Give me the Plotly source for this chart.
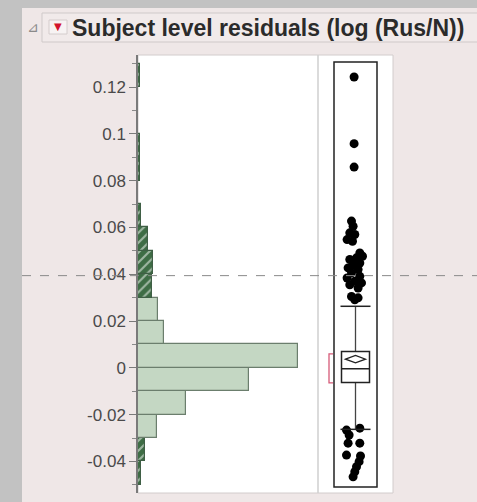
import plotly.graph_objects as go

# ---------------- data ----------------
bin_lo = [-0.05, -0.04, -0.03, -0.02, -0.01, 0.00, 0.01, 0.02, 0.03, 0.04,
          0.05, 0.06, 0.07, 0.08, 0.09, 0.10, 0.11, 0.12]
counts = [2, 4, 11, 28, 65, 94, 15, 12, 8, 9, 6, 2, 0, 1, 1, 0, 0, 1]
bin_width = 0.01

# box plot summary
q1 = -0.0063
median = -0.0004
q3 = 0.0070
whisker_lo = -0.0263
whisker_hi = 0.0263
mean = 0.0037
mean_ci = 0.0016
short_half_lo = -0.0064
short_half_hi = 0.0060

# outlier points (value, horizontal jitter)
outlier_vals = [0.1243, 0.0958, 0.0858,
                0.0627, 0.0605, 0.0577, 0.0570, 0.0548, 0.0541, 0.0491, 0.0477,
                0.0470, 0.0463, 0.0448, 0.0441, 0.0427, 0.0420, 0.0406, 0.0391,
                0.0384, 0.0370, 0.0363, 0.0355, 0.0341, 0.0305, 0.0299, 0.0291,
                -0.0258, -0.0266, -0.0287, -0.0322, -0.0322, -0.0373, -0.0377,
                -0.0401, -0.0423, -0.0444, -0.0466]
outlier_jit = [-1.4, -1.4, -1.4,
               -4.0, -2.4, -5.7, -0.7, -8.4, -3.0, 4.3, 7.0,
               1.0, -5.7, 4.3, -2.4, -7.4, 2.6, -4.0, 4.3,
               -8.4, -0.7, 6.0, -5.7, 2.6, -4.0, 2.6, -0.7,
               4.3, -9.0, -6.4, 4.3, -7.4, -9.0, 5.0,
               3.6, 1.0, -0.7, -2.4]

tick_vals = [-0.04, -0.02, 0.0, 0.02, 0.04, 0.06, 0.08, 0.10, 0.12]
tick_text = ["-0.04", "-0.02", "0", "0.02", "0.04", "0.06", "0.08", "0.1", "0.12"]
minor_vals = [-0.05, -0.03, -0.01, 0.01, 0.03, 0.05, 0.07, 0.09, 0.11, 0.13]
crosshair_val = 0.0394

title_text = "Subject level residuals (log (Rus/N))"

# ---------------- figure ----------------
W, H = 477, 502
def px_x(p):
    return p / W
def px_y(p):
    return 1 - p / H

light_fill = "#c4d7c3"
dark_fill = "#3e6d45"

centers = [b + bin_width / 2 for b in bin_lo]
dark = [(b >= whisker_hi) or (b + bin_width <= whisker_lo) for b in bin_lo]
colors = [dark_fill if d else light_fill for d in dark]
lines = ["#3f5f45" if d else "#6b7e6d" for d in dark]
patterns = ["/" if d else "" for d in dark]

fig = go.Figure()

fig.add_trace(go.Bar(
    y=centers, x=counts, orientation="h", width=bin_width,
    marker=dict(color=colors, line=dict(color=lines, width=1.2),
                pattern=dict(shape=patterns, fgcolor="#6f9a75",
                             size=7, solidity=0.3, fillmode="overlay")),
    xaxis="x", yaxis="y", hoverinfo="skip", showlegend=False))

fig.add_trace(go.Scatter(
    x=outlier_jit, y=outlier_vals, mode="markers",
    marker=dict(color="black", size=9, line=dict(width=0)),
    xaxis="x2", yaxis="y", hoverinfo="skip", showlegend=False))

shapes = []
# outer gray frame pieces
shapes.append(dict(type="rect", xref="paper", yref="paper", x0=0, x1=1, y0=0, y1=1,
                   fillcolor="#c2c2c2", line=dict(width=0), layer="below"))
shapes.append(dict(type="rect", xref="paper", yref="paper", x0=px_x(22), x1=1,
                   y0=0, y1=px_y(8), fillcolor="#efe7e7", line=dict(width=0), layer="below"))
# title bar frame
shapes.append(dict(type="rect", xref="paper", yref="paper", x0=px_x(42), x1=px_x(480),
                   y0=px_y(42), y1=px_y(13), fillcolor="#f1eaea",
                   line=dict(color="#cfc9c9", width=1), layer="below"))
# dropdown button
shapes.append(dict(type="rect", xref="paper", yref="paper", x0=px_x(49), x1=px_x(67),
                   y0=px_y(34), y1=px_y(20), fillcolor="#f7f3f3",
                   line=dict(color="#d4cccc", width=1), layer="below"))
# white plot areas
shapes.append(dict(type="rect", xref="paper", yref="paper", x0=px_x(138), x1=px_x(393),
                   y0=px_y(493), y1=px_y(55), fillcolor="white",
                   line=dict(color="#d2cccc", width=1), layer="below"))
# separator between histogram and box plot
shapes.append(dict(type="line", xref="paper", yref="paper", x0=px_x(318), x1=px_x(318),
                   y0=px_y(493), y1=px_y(55), line=dict(color="#cfcfcf", width=1.5)))

# box-plot frame
shapes.append(dict(type="rect", xref="x2", yref="paper", x0=-21.5, x1=21.5,
                   y0=px_y(487), y1=px_y(62), line=dict(color="#222", width=1.5)))
# whisker line
shapes.append(dict(type="line", xref="x2", yref="y", x0=0, x1=0, y0=whisker_lo, y1=whisker_hi,
                   line=dict(color="#444", width=1.3)))
# whisker caps
for wv in (whisker_lo, whisker_hi):
    shapes.append(dict(type="line", xref="x2", yref="y", x0=-15, x1=15, y0=wv, y1=wv,
                       line=dict(color="#222", width=1.5)))
# box
shapes.append(dict(type="rect", xref="x2", yref="y", x0=-14, x1=14, y0=q1, y1=q3,
                   fillcolor="white", line=dict(color="#222", width=1.5)))
shapes.append(dict(type="line", xref="x2", yref="y", x0=-14, x1=14, y0=median, y1=median,
                   line=dict(color="#222", width=1.5)))
# mean diamond
shapes.append(dict(type="path", xref="x2", yref="y",
                   path=f"M -10 {mean} L 0 {mean + mean_ci} L 10 {mean} L 0 {mean - mean_ci} Z",
                   line=dict(color="#222", width=1.3), fillcolor="white"))
# shortest half bracket
bx = -26.5
shapes.append(dict(type="path", xref="x2", yref="y",
                   path=(f"M {bx + 4} {short_half_hi} L {bx} {short_half_hi} "
                         f"L {bx} {short_half_lo} L {bx + 4} {short_half_lo}"),
                   line=dict(color="#d65a78", width=1.3)))
# crosshair dashed line
shapes.append(dict(type="line", xref="paper", yref="y", x0=px_x(22), x1=1,
                   y0=crosshair_val, y1=crosshair_val,
                   line=dict(color="#8a8a8a", width=1, dash="dash")))

annotations = [
    dict(text=title_text, xref="paper", yref="paper", x=px_x(70), y=px_y(28),
         xanchor="left", yanchor="middle", showarrow=False,
         font=dict(family="Liberation Sans", size=23, color="#2b2b2b", weight="bold")),
    dict(text="⊿", xref="paper", yref="paper", x=px_x(33), y=px_y(27),
         xanchor="center", yanchor="middle", showarrow=False,
         font=dict(family="DejaVu Sans", size=14, color="#8a8a8a")),
    dict(text="▼", xref="paper", yref="paper", x=px_x(58), y=px_y(27),
         xanchor="center", yanchor="middle", showarrow=False,
         font=dict(family="DejaVu Sans", size=10, color="#d3142c")),
]

hist_unit_px = 1.7
fig.update_layout(
    width=W, height=H, autosize=False,
    margin=dict(l=0, r=0, t=0, b=0, pad=0),
    paper_bgcolor="#c2c2c2", plot_bgcolor="rgba(0,0,0,0)",
    showlegend=False,
    xaxis=dict(domain=[px_x(138), px_x(318)], range=[0, 180 / hist_unit_px],
               visible=False, fixedrange=True),
    xaxis2=dict(domain=[px_x(318), px_x(393)], range=[-37.5, 37.5],
                visible=False, anchor="y", fixedrange=True),
    yaxis=dict(domain=[px_y(493), px_y(55)], range=[-0.0535, 0.1337],
               tickvals=tick_vals, ticktext=tick_text,
               ticks="outside", ticklen=7, tickcolor="#7a7a7a", tickwidth=1,
               showline=True, linecolor="#7a7a7a", linewidth=1.5,
               showgrid=False, zeroline=False,
               tickfont=dict(family="Liberation Sans", size=17, color="#4a4a4a"),
               minor=dict(tickvals=minor_vals, ticks="outside", ticklen=4,
                          tickcolor="#8a8a8a", showgrid=False),
               anchor="x", fixedrange=True),
    bargap=0,
    shapes=shapes,
    annotations=annotations,
)

fig.write_html("out.html")
